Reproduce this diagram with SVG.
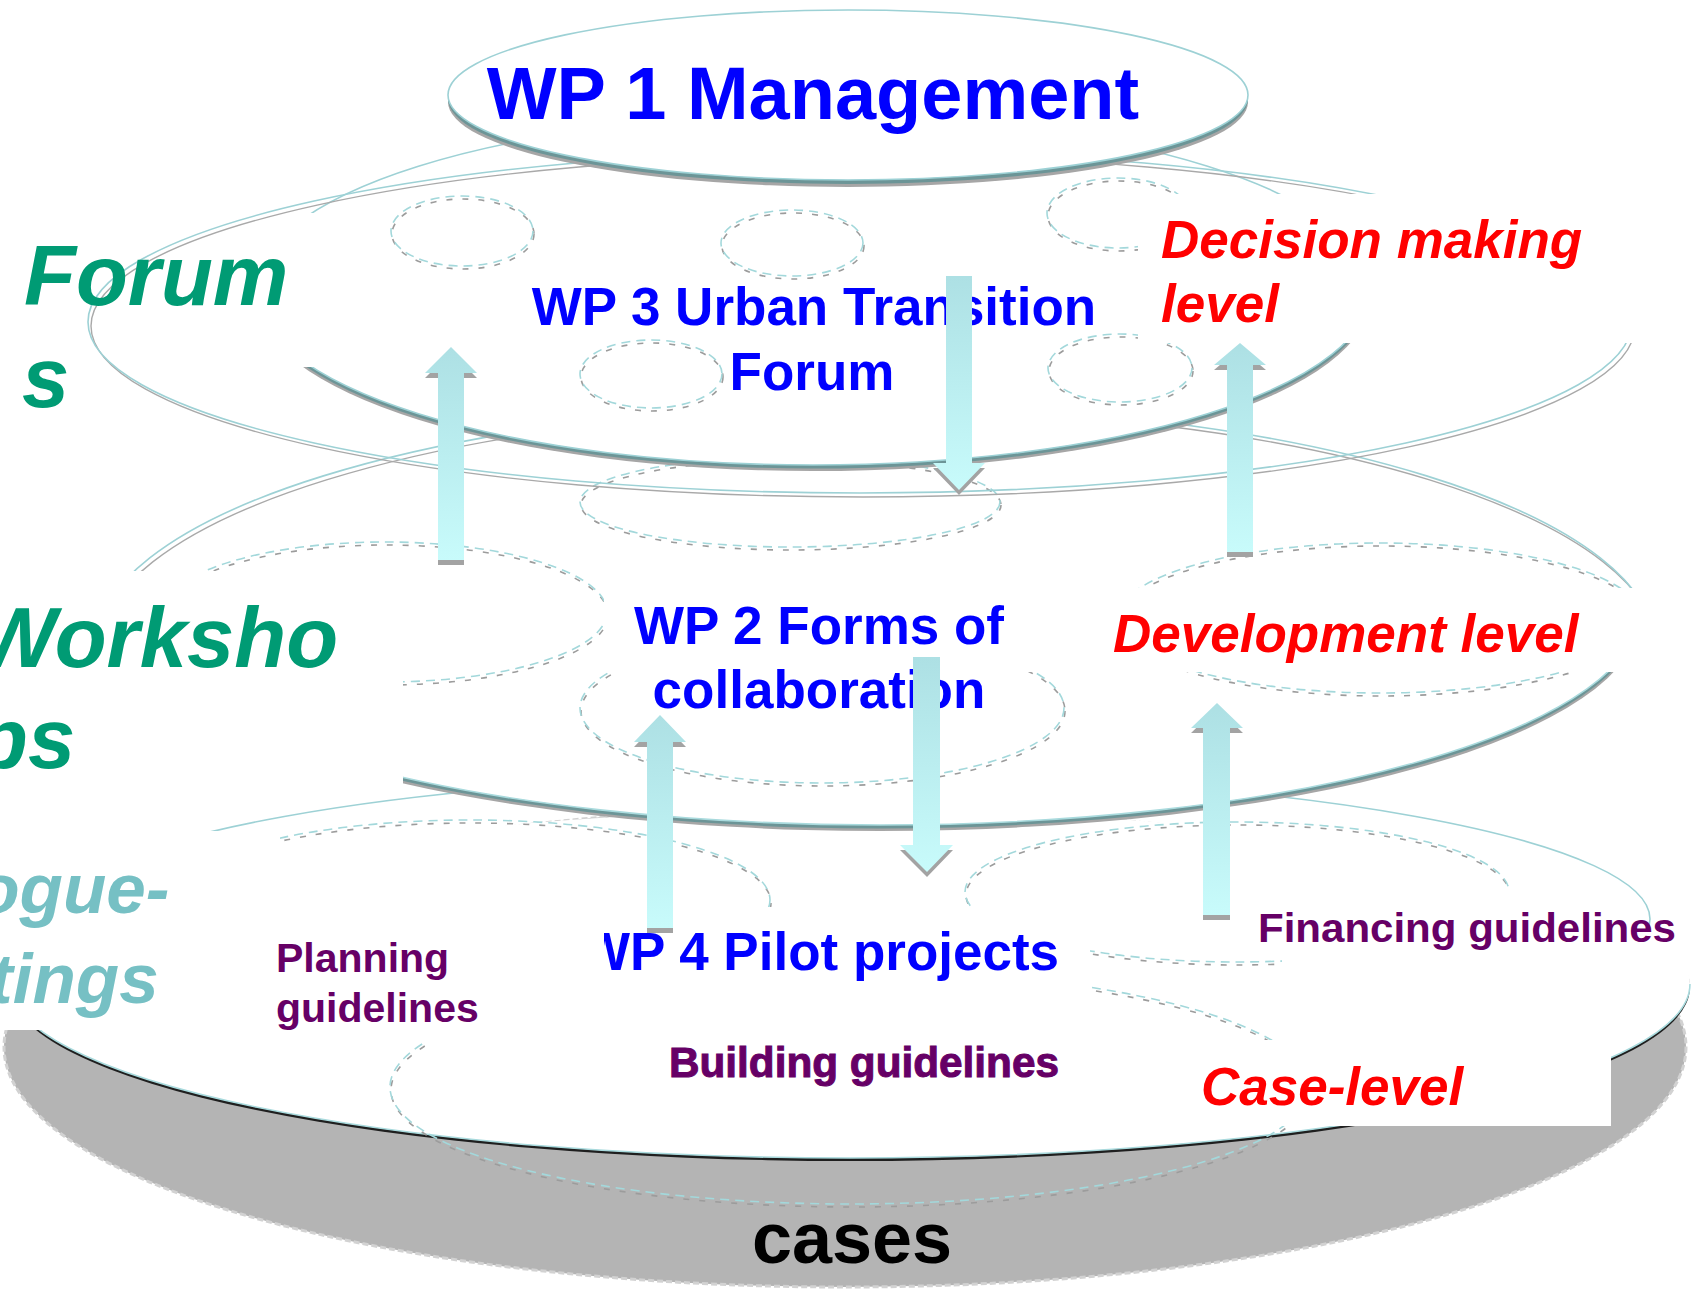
<svg xmlns="http://www.w3.org/2000/svg" width="1691" height="1297" viewBox="0 0 1691 1297">
<defs>
<style>
.tl{fill:none;stroke:#9dd1d5;stroke-width:1.6}
.gl{fill:none;stroke:#a9a9a9;stroke-width:1.4}
.dt{fill:none;stroke:#a3d8db;stroke-width:1.6;stroke-dasharray:9 6}
.dg{fill:none;stroke:#9c9c9c;stroke-width:1.6;stroke-dasharray:6 10}
.hl{fill:none;stroke:#a9dadd;stroke-width:1.6}
.rim{fill:#6c9597}
.rsh{fill:#a6a6a6}
.box{fill:#fff}
.arw{fill:url(#ag)}
.ash{fill:#a3a3a3}
text{font-family:"Liberation Sans",Arial,sans-serif;font-weight:bold}
.it{font-style:italic}
.blue{fill:#0000ff}
.red{fill:#ff0000}
.green{fill:#009b74}
.lteal{fill:#76c0c4}
.purp{fill:#660066}
</style>
<linearGradient id="ag" x1="0" y1="0" x2="0" y2="1"><stop offset="0" stop-color="#ade0e4"/><stop offset="1" stop-color="#c8fbfb"/></linearGradient>
<ellipse id="d1" cx="462" cy="231" rx="71" ry="35"/>
<ellipse id="d2" cx="792" cy="243" rx="71" ry="33"/>
<ellipse id="d3" cx="1118" cy="213" rx="71" ry="35"/>
<ellipse id="d4" cx="651" cy="374" rx="71" ry="34"/>
<ellipse id="d5" cx="1120" cy="368" rx="72" ry="34"/>
<ellipse id="d6" cx="790" cy="502" rx="210" ry="45"/>
<ellipse id="dws" cx="385" cy="612" rx="222" ry="70"/>
<ellipse id="dwp2" cx="822" cy="708" rx="242" ry="75"/>
<ellipse id="ddev" cx="1380" cy="618" rx="262" ry="75"/>
<ellipse id="dcl" cx="470" cy="900" rx="300" ry="80"/>
<ellipse id="dfin" cx="1237" cy="892" rx="272" ry="70"/>
<ellipse id="dcb" cx="850" cy="1087" rx="460" ry="117"/>
<polygon id="a1" points="438,560 438,373 425,373 451,347 477,373 464,373 464,560"/>
<polygon id="a2" points="946,276 972,276 972,463 985,463 959,490 933,463 946,463"/>
<polygon id="a3" points="1227,552 1227,365 1214,365 1240,343 1266,365 1253,365 1253,552"/>
<polygon id="a4" points="647,928 647,742 634,742 660,715 686,742 673,742 673,928"/>
<polygon id="a5" points="913,657 940,657 940,845 953,845 927,872 900,845 913,845"/>
<polygon id="a6" points="1203,915 1203,728 1191,728 1217,703 1243,728 1230,728 1230,915"/>
<clipPath id="c4"><rect x="604" y="880" width="600" height="130"/></clipPath>
</defs>
<rect width="1691" height="1297" fill="#fff"/>

<g id="cases-disk">
<ellipse cx="845" cy="1047" rx="841" ry="240" fill="#b4b4b4" stroke="#d2d2d2" stroke-width="3" stroke-dasharray="6 3"/>
</g>

<g id="case-layer">
<ellipse class="tl" cx="850" cy="919" rx="800" ry="145"/>
<ellipse cx="850" cy="987" rx="840" ry="174" fill="#1f1f1f"/>
<ellipse cx="850" cy="984" rx="840" ry="174" fill="#fff"/>
<path class="hl" d="M10,984 A840,174 0 0 0 1690,984"/>
<use href="#dcb" class="dg" transform="translate(1,3)"/><use href="#dcb" class="dt"/>
<use href="#dcl" class="dg" transform="translate(1,3)"/><use href="#dcl" class="dt"/>
<use href="#dfin" class="dg" transform="translate(1,3)"/><use href="#dfin" class="dt"/>
</g>

<g id="wp2-layer">
<ellipse class="rsh" cx="880" cy="616" rx="760" ry="215"/>
<ellipse class="rim" cx="880" cy="613.5" rx="760" ry="215"/>
<ellipse cx="880" cy="610" rx="760" ry="215" fill="#fff"/>
<path class="hl" d="M120,610 A760,215 0 0 0 1640,610"/>
<path class="gl" d="M98,651 A780,242 0 0 1 1658,651"/>
<path class="tl" d="M95,647 A780,242 0 0 1 1655,647"/>
<use href="#d6" class="dg" transform="translate(1,3)"/><use href="#d6" class="dt"/>
<use href="#dws" class="dg" transform="translate(1,3)"/><use href="#dws" class="dt"/>
<use href="#dwp2" class="dg" transform="translate(1,3)"/><use href="#dwp2" class="dt"/>
<use href="#ddev" class="dg" transform="translate(1,3)"/><use href="#ddev" class="dt"/>
</g>

<g id="forum-layer">
<ellipse class="rsh" cx="813" cy="296" rx="558" ry="175"/>
<ellipse class="rim" cx="813" cy="293.5" rx="558" ry="175"/>
<ellipse cx="813" cy="290" rx="558" ry="175" fill="#fff" stroke="#9dd1d5" stroke-width="1.6"/>
<rect class="box" x="0" y="213" width="315" height="154"/>
<ellipse class="gl" cx="863" cy="326" rx="772" ry="171"/>
<ellipse class="tl" cx="860" cy="322" rx="772" ry="171"/>
<use href="#d1" class="dg" transform="translate(1,3)"/><use href="#d1" class="dt"/>
<use href="#d2" class="dg" transform="translate(1,3)"/><use href="#d2" class="dt"/>
<use href="#d3" class="dg" transform="translate(1,3)"/><use href="#d3" class="dt"/>
<use href="#d4" class="dg" transform="translate(1,3)"/><use href="#d4" class="dt"/>
<use href="#d5" class="dg" transform="translate(1,3)"/><use href="#d5" class="dt"/>
</g>

<g id="wp1">
<ellipse class="rsh" cx="848" cy="102" rx="400" ry="85"/>
<ellipse class="rim" cx="848" cy="99" rx="400" ry="85"/>
<ellipse cx="848" cy="95" rx="400" ry="85" fill="#fff" stroke="#9dd1d5" stroke-width="1.6"/>
<text class="blue" x="813" y="119" font-size="74" text-anchor="middle">WP 1 Management</text>
</g>

<g id="text-boxes">
<rect class="box" x="1138" y="194" width="553" height="149"/>
<rect class="box" x="0" y="571" width="403" height="215"/>
<rect class="box" x="604" y="560" width="441" height="112"/>
<rect class="box" x="1117" y="588" width="574" height="84"/>
<rect class="box" x="0" y="831" width="280" height="199"/>
<rect class="box" x="604" y="907" width="486" height="93"/>
<rect class="box" x="1282" y="890" width="318" height="153"/>
<rect class="box" x="1190" y="1040" width="421" height="86"/>
</g>

<g id="wp4">
<text class="blue" x="580" y="970" font-size="53" clip-path="url(#c4)">WP 4 Pilot projects</text>
</g>
<g id="planning">
<rect class="box" x="280" y="845" width="324" height="198"/>
<text class="purp" x="276" y="972" font-size="41">Planning</text>
<text class="purp" x="276" y="1022" font-size="41">guidelines</text>
</g>

<g id="labels">
<text class="green it" x="24" y="305" font-size="85">Forum</text>
<text class="green it" x="22" y="407" font-size="85">s</text>
<text class="green it" x="-24" y="667" font-size="85">Worksho</text>
<text class="green it" x="-24" y="768" font-size="85">ps</text>
<text class="lteal it" x="-154" y="913" font-size="71">Dialogue-</text>
<text class="lteal it" x="-153" y="1003" font-size="71">meetings</text>
</g>

<g id="wp3">
<text class="blue" x="814" y="325" font-size="53" text-anchor="middle">WP 3 Urban Transition</text>
<text class="blue" x="812" y="390" font-size="53" text-anchor="middle">Forum</text>
</g>
<g id="wp2">
<text class="blue" x="819" y="644" font-size="53" text-anchor="middle">WP 2 Forms of</text>
<text class="blue" x="819" y="708" font-size="53" text-anchor="middle">collaboration</text>
</g>
<g id="levels">
<text class="red it" x="1161" y="258" font-size="53">Decision making</text>
<text class="red it" x="1161" y="322" font-size="53">level</text>
<text class="red it" x="1113" y="652" font-size="53">Development level</text>
<text class="red it" x="1201" y="1105" font-size="53">Case-level</text>
</g>
<g id="guidelines">
<text class="purp" x="1258" y="942" font-size="41" textLength="418" lengthAdjust="spacingAndGlyphs">Financing guidelines</text>
<text class="purp" x="669" y="1077" font-size="42" textLength="390" lengthAdjust="spacingAndGlyphs" stroke="#660066" stroke-width="1">Building guidelines</text>
</g>
<g id="cases">
<text x="852" y="1263" font-size="72" text-anchor="middle" fill="#000">cases</text>
</g>

<g id="connectors">
<use href="#a1" class="ash" transform="translate(0,5)"/><use href="#a1" class="arw"/>
<use href="#a2" class="ash" transform="translate(0,5)"/><use href="#a2" class="arw"/>
<use href="#a3" class="ash" transform="translate(0,5)"/><use href="#a3" class="arw"/>
<use href="#a4" class="ash" transform="translate(0,5)"/><use href="#a4" class="arw"/>
<use href="#a5" class="ash" transform="translate(0,5)"/><use href="#a5" class="arw"/>
<use href="#a6" class="ash" transform="translate(0,5)"/><use href="#a6" class="arw"/>
</g>
</svg>
